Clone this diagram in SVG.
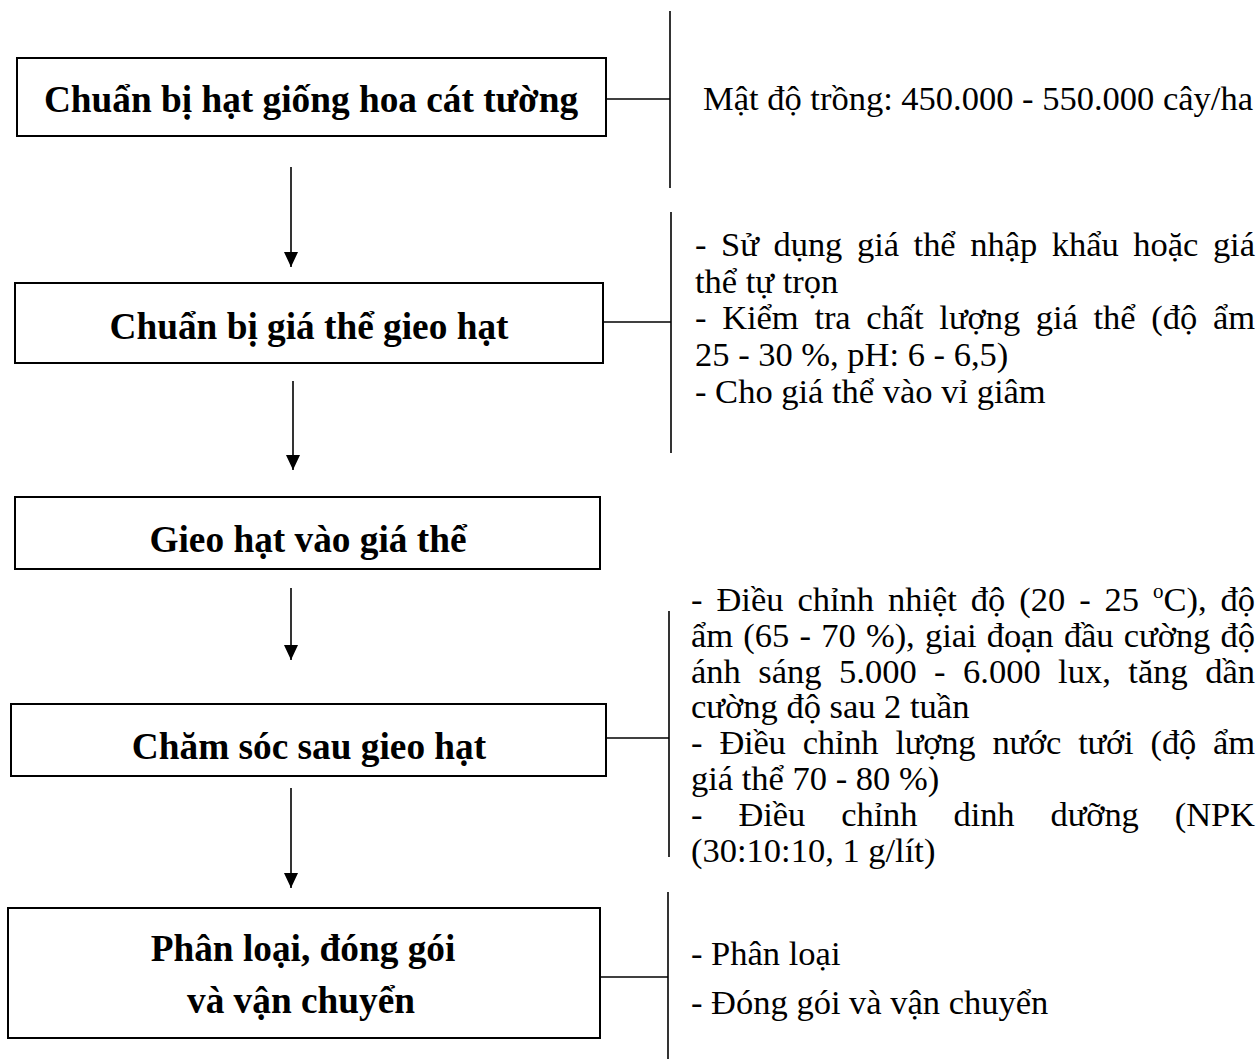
<svg xmlns="http://www.w3.org/2000/svg" width="1258" height="1059" viewBox="0 0 1258 1059">
<style>
.box{fill:#fff;stroke:#000;stroke-width:2}
.ln{stroke:#000;stroke-width:1.6;fill:none}
.t{font-family:"Liberation Serif","Times New Roman",serif;font-size:34.5px;fill:#000}
.b{font-family:"Liberation Serif","Times New Roman",serif;font-size:37.3px;font-weight:bold;fill:#000;text-anchor:middle}
</style>
<defs>
<marker id="ah" viewBox="0 0 15 14" refX="15" refY="7" markerWidth="15" markerHeight="14" markerUnits="userSpaceOnUse" orient="auto">
<path d="M0,0 L15,7 L0,14 z" fill="#000"/>
</marker>
</defs>
<rect x="0" y="0" width="1258" height="1059" fill="#fff"/>

<g id="connectors">
<line class="ln" x1="291" y1="167" x2="291" y2="267" marker-end="url(#ah)"/>
<line class="ln" x1="293" y1="381" x2="293" y2="470" marker-end="url(#ah)"/>
<line class="ln" x1="291" y1="588" x2="291" y2="660" marker-end="url(#ah)"/>
<line class="ln" x1="291" y1="788" x2="291" y2="888" marker-end="url(#ah)"/>
<line class="ln" x1="606" y1="99" x2="670" y2="99"/>
<line class="ln" x1="603" y1="322" x2="671" y2="322"/>
<line class="ln" x1="606" y1="738" x2="669" y2="738"/>
<line class="ln" x1="600" y1="977" x2="668" y2="977"/>
<line class="ln" x1="670" y1="11" x2="670" y2="188"/>
<line class="ln" x1="671" y1="212" x2="671" y2="453"/>
<line class="ln" x1="669" y1="611" x2="669" y2="857"/>
<line class="ln" x1="668" y1="892" x2="668" y2="1059"/>
</g>

<g id="node-1">
<rect class="box" x="17" y="58" width="589" height="78"/>
<text class="b" x="311" y="112">Chuẩn bị hạt giống hoa cát tường</text>
</g>
<g id="node-2">
<rect class="box" x="15" y="283" width="588" height="80"/>
<text class="b" x="309" y="339">Chuẩn bị giá thể gieo hạt</text>
</g>
<g id="node-3">
<rect class="box" x="15" y="497" width="585" height="72"/>
<text class="b" x="308" y="552">Gieo hạt vào giá thể</text>
</g>
<g id="node-4">
<rect class="box" x="11" y="704" width="595" height="72"/>
<text class="b" x="309" y="759">Chăm sóc sau gieo hạt</text>
</g>
<g id="node-5">
<rect class="box" x="8" y="908" width="592" height="130"/>
<text class="b" x="303" y="961">Phân loại, đóng gói</text>
<text class="b" x="301" y="1013">và vận chuyển</text>
</g>

<g id="note-1">
<text class="t" x="703" y="110">Mật độ trồng: 450.000 - 550.000 cây/ha</text>
</g>
<g id="note-2">
<text class="t" x="695" y="256" word-spacing="6" textLength="560" lengthAdjust="spacing">- Sử dụng giá thể nhập khẩu hoặc giá</text>
<text class="t" x="695" y="292.7">thể tự trọn</text>
<text class="t" x="695" y="329.4" word-spacing="7.2" textLength="560" lengthAdjust="spacing">- Kiểm tra chất lượng giá thể (độ ẩm</text>
<text class="t" x="695" y="366.1">25 - 30 %, pH: 6 - 6,5)</text>
<text class="t" x="695" y="402.8">- Cho giá thể vào vỉ giâm</text>
</g>
<g id="note-4">
<text class="t" x="691" y="611" word-spacing="5.3" textLength="564" lengthAdjust="spacing">- Điều chỉnh nhiệt độ (20 - 25 <tspan font-size="21" dy="-13">o</tspan><tspan dy="13">C), độ</tspan></text>
<text class="t" x="691" y="646.8" word-spacing="1.8" textLength="564" lengthAdjust="spacing">ẩm (65 - 70 %), giai đoạn đầu cường độ</text>
<text class="t" x="691" y="682.6" word-spacing="8.8" textLength="564" lengthAdjust="spacing">ánh sáng 5.000 - 6.000 lux, tăng dần</text>
<text class="t" x="691" y="718.4">cường độ sau 2 tuần</text>
<text class="t" x="691" y="754.2" word-spacing="8.7" textLength="564" lengthAdjust="spacing">- Điều chỉnh lượng nước tưới (độ ẩm</text>
<text class="t" x="691" y="790">giá thể 70 - 80 %)</text>
<text class="t" x="691" y="825.8" word-spacing="27.6" textLength="564" lengthAdjust="spacing">- Điều chỉnh dinh dưỡng (NPK</text>
<text class="t" x="691" y="861.6">(30:10:10, 1 g/lít)</text>
</g>
<g id="note-5">
<text class="t" x="691" y="965">- Phân loại</text>
<text class="t" x="691" y="1014">- Đóng gói và vận chuyển</text>
</g>
</svg>
